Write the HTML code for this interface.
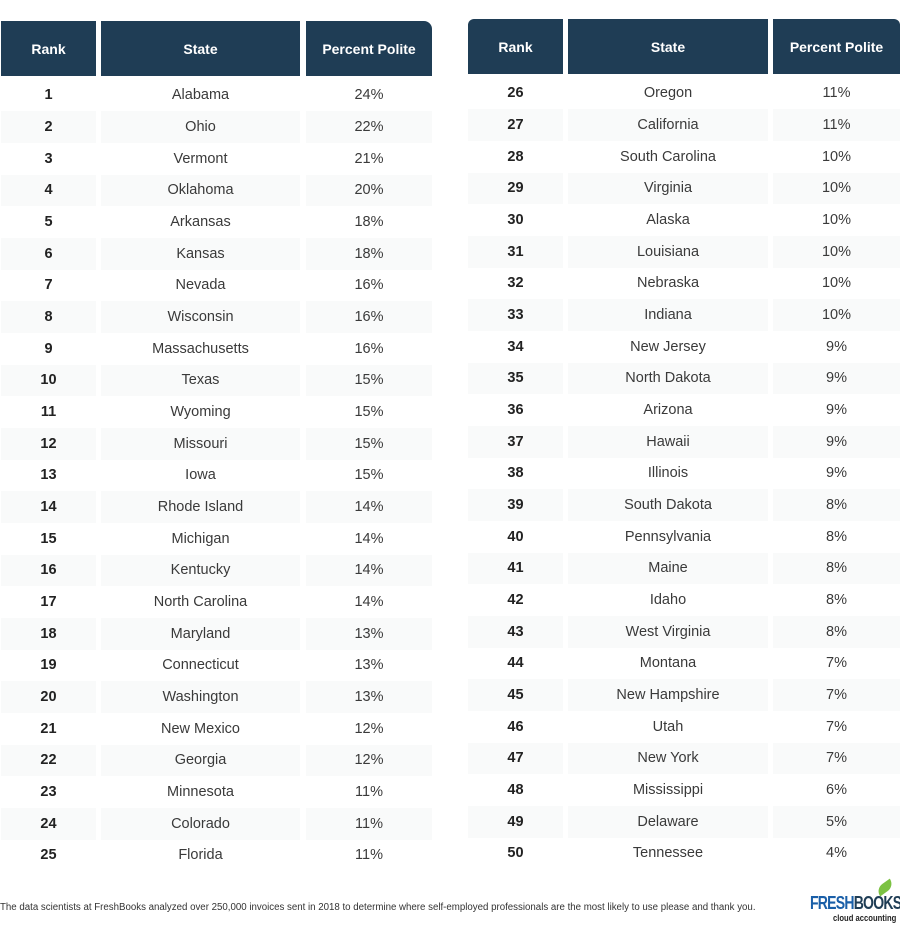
<!DOCTYPE html>
<html><head><meta charset="utf-8"><style>
body{margin:0;width:900px;height:937px;background:#fff;position:relative;overflow:hidden;font-family:"Liberation Sans",sans-serif;}
.h{position:absolute;background:#1f3d55;color:#fff;font-weight:bold;font-size:14px;display:flex;align-items:center;justify-content:center;}
.r{position:absolute;height:31.67px;font-size:14.5px;color:#3a3a3a;}
.r span{position:absolute;top:0;height:100%;display:flex;align-items:center;justify-content:center;}
.r span.k{font-weight:bold;color:#222;}
.s span{background:#f9fafa;}
.foot{position:absolute;left:0;top:902px;font-size:9.7px;color:#333;white-space:nowrap;}
</style></head><body>
<div class="h" style="left:1px;top:21px;width:95px;height:55px;">Rank</div>
<div class="h" style="left:101px;top:21px;width:199px;height:55px;">State</div>
<div class="h" style="left:306px;top:21px;width:126px;height:55px;border-top-right-radius:8px;">Percent Polite</div>
<div id="L"></div>
<div class="h" style="left:468px;top:19px;width:95px;height:55px;border-top-left-radius:6px;">Rank</div>
<div class="h" style="left:568px;top:19px;width:200px;height:55px;">State</div>
<div class="h" style="left:773px;top:19px;width:127px;height:55px;border-top-right-radius:6px;">Percent Polite</div>
<div id="R"></div>
<div class="foot">The data scientists at FreshBooks analyzed over 250,000 invoices sent in 2018 to determine where self-employed professionals are the most likely to use please and thank you.</div>
<div style="position:absolute;left:810px;top:893px;font-weight:bold;font-size:18px;letter-spacing:-1px;color:#1a5fa8;white-space:nowrap;transform:scaleX(0.78);transform-origin:left;">FRESH<span style="color:#1f3d55">BOOKS</span></div>
<div style="position:absolute;left:833px;top:913px;font-size:9px;color:#222;font-weight:bold;white-space:nowrap;transform:scaleX(0.85);transform-origin:left;">cloud accounting</div>
<div style="position:absolute;left:876px;top:883px;width:18px;height:9px;background:#7cc243;border-radius:10px 0 10px 0;transform:rotate(-35deg);"></div>
<script>
var L=[["Alabama","24%"],["Ohio","22%"],["Vermont","21%"],["Oklahoma","20%"],["Arkansas","18%"],["Kansas","18%"],["Nevada","16%"],["Wisconsin","16%"],["Massachusetts","16%"],["Texas","15%"],["Wyoming","15%"],["Missouri","15%"],["Iowa","15%"],["Rhode Island","14%"],["Michigan","14%"],["Kentucky","14%"],["North Carolina","14%"],["Maryland","13%"],["Connecticut","13%"],["Washington","13%"],["New Mexico","12%"],["Georgia","12%"],["Minnesota","11%"],["Colorado","11%"],["Florida","11%"]];
var R=[["Oregon","11%"],["California","11%"],["South Carolina","10%"],["Virginia","10%"],["Alaska","10%"],["Louisiana","10%"],["Nebraska","10%"],["Indiana","10%"],["New Jersey","9%"],["North Dakota","9%"],["Arizona","9%"],["Hawaii","9%"],["Illinois","9%"],["South Dakota","8%"],["Pennsylvania","8%"],["Maine","8%"],["Idaho","8%"],["West Virginia","8%"],["Montana","7%"],["New Hampshire","7%"],["Utah","7%"],["New York","7%"],["Mississippi","6%"],["Delaware","5%"],["Tennessee","4%"]];
function build(id,d,top,x,off){var h="";d.forEach(function(r,i){var y=top+i*31.67;h+='<div class="r'+(i%2?' s':'')+'" style="left:0;top:'+y+'px;width:900px;"><span class="k" style="left:'+x[0]+'px;width:'+x[1]+'px">'+(i+1+off)+'</span><span style="left:'+x[2]+'px;width:'+x[3]+'px">'+r[0]+'</span><span style="left:'+x[4]+'px;width:'+x[5]+'px">'+r[1]+'</span></div>';});document.getElementById(id).innerHTML=h;}
build("L",L,79.5,[1,95,101,199,306,126],0);
build("R",R,77.5,[468,95,568,200,773,127],25);
</script>
</body></html>
